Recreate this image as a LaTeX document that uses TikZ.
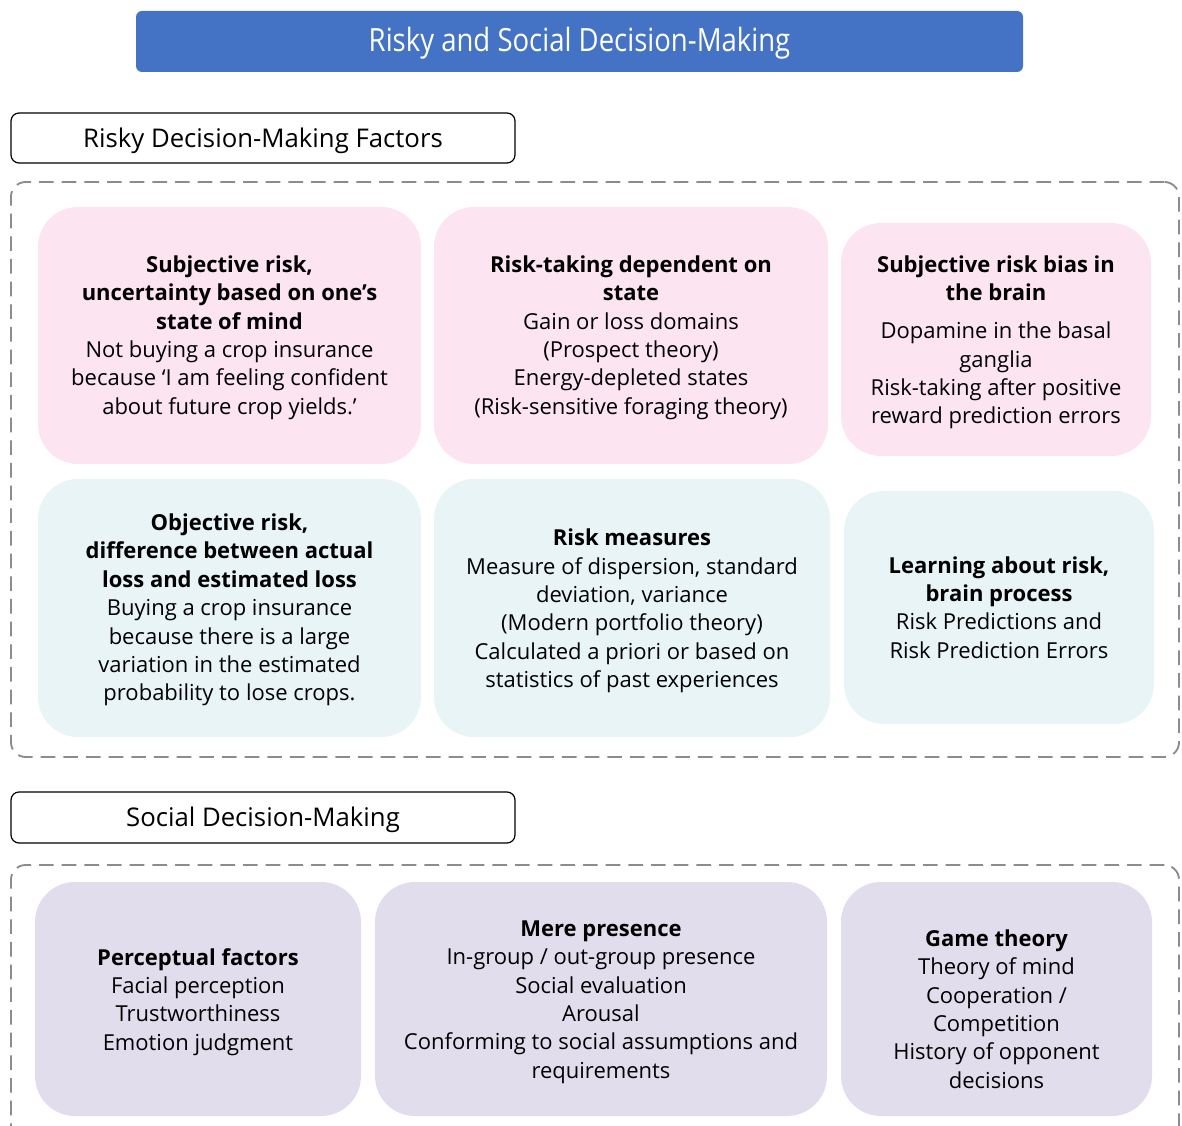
\documentclass[tikz,border=0pt]{standalone}
\usepackage{fontspec}
\setmainfont{Open Sans}
\usetikzlibrary{calc}
\definecolor{bannerblue}{RGB}{68,114,196}
\definecolor{cardpink}{RGB}{252,228,240}
\definecolor{cardblue}{RGB}{232,244,246}
\definecolor{cardlilac}{RGB}{226,221,236}
\definecolor{dashgray}{RGB}{140,140,140}
\tikzset{
  x=0.75pt, y=-0.75pt,
  wh/.style 2 args={minimum width=#1*0.75pt, minimum height=#2*0.75pt},
  card/.style={rounded corners=30pt, draw=none, inner sep=0pt},
  cardtext/.style={align=center, inner sep=0pt, font=\fontsize{16.5}{21.3}\selectfont},
  banner/.style={rounded corners=4.5pt, fill=bannerblue, inner sep=0pt},
  bannertext/.style={text=white, inner sep=0pt,
    font=\fontsize{24}{26}\selectfont\addfontfeature{FakeStretch=0.86}},
  header/.style={rounded corners=6pt, draw=black, line width=0.9pt, fill=white, inner sep=0pt},
  headertext/.style={inner sep=0pt, font=\fontsize{19.3}{22}\selectfont},
  group/.style={rounded corners=11pt, draw=dashgray, line width=1.4pt,
    dash pattern=on 11pt off 6pt, inner sep=0pt},
}
% #1 name, #2 fill, #3 centre, #4 width, #5 height, #6 text offset, #7 text
\newcommand\cardbox[7]{%
  \node[card, fill=#2, wh={#4}{#5}] (#1) at (#3) {};
  \node[cardtext] (#1-txt) at ($(#1.center)+(0,#6)$) {#7};}
\begin{document}
\begin{tikzpicture}
\useasboundingbox (0,0) rectangle (1182,1126);
\clip (0,0) rectangle (1182,1126);

% title banner
\node[banner, wh={887}{61}] (title) at (579.5,41.5) {};
\node[bannertext] (title-txt) at ($(title.center)+(0,1.5)$) {Risky and Social Decision-Making};

% risky decision-making section
\node[header, wh={504}{50}] (hrisky) at (263,138) {};
\node[headertext] (hrisky-txt) at ($(hrisky.center)+(0,3)$) {Risky Decision-Making Factors};
\node[group, wh={1168}{575}] (grisky) at (595,469.5) {};

\cardbox{subj}{cardpink}{229.5,335.5}{383}{257}{2}
  {\textbf{Subjective risk,}\\\textbf{uncertainty based on one’s}\\\textbf{state of mind}\\
   Not buying a crop insurance\\because ‘I am feeling confident\\about future crop yields.’}
\cardbox{state}{cardpink}{631,335.5}{394}{257}{2}
  {\textbf{Risk-taking dependent on}\\\textbf{state}\\Gain or loss domains\\(Prospect theory)\\
   Energy-depleted states\\(Risk-sensitive foraging theory)}
\cardbox{bias}{cardpink}{996,339.5}{310}{233}{3}
  {\textbf{Subjective risk bias in}\\\textbf{the brain}\\[7pt]Dopamine in the basal\\ganglia\\
   Risk-taking after positive\\reward prediction errors}

\cardbox{obj}{cardblue}{229.5,608}{383}{258}{2}
  {\textbf{Objective risk,}\\\textbf{difference between actual}\\\textbf{loss and estimated loss}\\
   Buying a crop insurance\\because there is a large\\variation in the estimated\\probability to lose crops.}
\cardbox{meas}{cardblue}{632,608}{396}{258}{3}
  {\textbf{Risk measures}\\Measure of dispersion, standard\\deviation, variance\\(Modern portfolio theory)\\
   Calculated a priori or based on\\statistics of past experiences}
\cardbox{learn}{cardblue}{999,607.5}{310}{233}{0}
  {\textbf{Learning about risk,}\\\textbf{brain process}\\Risk Predictions and\\Risk Prediction Errors}

% social decision-making section
\node[header, wh={504}{51}] (hsocial) at (263,817.5) {};
\node[headertext] (hsocial-txt) at ($(hsocial.center)+(0,2.5)$) {Social Decision-Making};
\node[group, wh={1168}{295}] (gsocial) at (595,1012.5) {};

\cardbox{perc}{cardlilac}{198,999}{326}{234}{3}
  {\textbf{Perceptual factors}\\Facial perception\\Trustworthiness\\Emotion judgment}
\cardbox{mere}{cardlilac}{601,999}{452}{234}{3}
  {\textbf{Mere presence}\\In-group / out-group presence\\Social evaluation\\Arousal\\
   Conforming to social assumptions and\\requirements}
\cardbox{game}{cardlilac}{996.5,999}{311}{234}{10}
  {\textbf{Game theory}\\Theory of mind\\Cooperation /\\Competition\\History of opponent\\decisions}
\end{tikzpicture}
\end{document}
